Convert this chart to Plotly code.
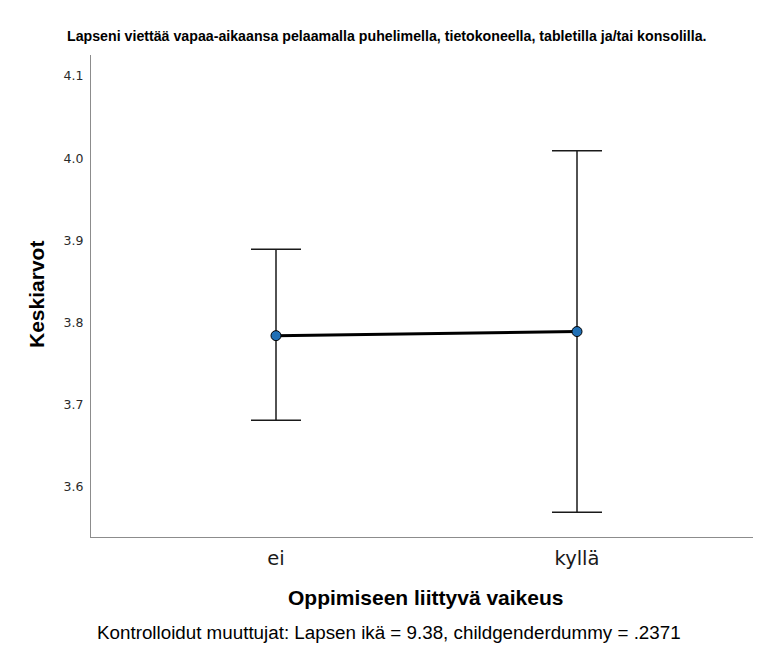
import plotly.graph_objects as go

categories = ["ei", "kyllä"]
means = [3.784, 3.789]
upper = [3.889, 4.009]
lower = [3.681, 3.569]
yticks = [3.6, 3.7, 3.8, 3.9, 4.0, 4.1]

title_text = "Lapseni viettää vapaa-aikaansa pelaamalla puhelimella, tietokoneella, tabletilla ja/tai konsolilla."
xtitle = "Oppimiseen liittyvä vaikeus"
ytitle = "Keskiarvot"
footer = "Kontrolloidut muuttujat: Lapsen ikä = 9.38, childgenderdummy = .2371"

xpos = list(range(len(categories)))
err_plus = [u - m for u, m in zip(upper, means)]
err_minus = [m - l for m, l in zip(means, lower)]

# the page body has an 8px margin; positions are offset by it
W, H = 745, 637
L, T, B, R = 83, 47, 108, 0
PW = W - L - R
PH = H - T - B

fig = go.Figure()
fig.add_trace(go.Scatter(
    x=xpos, y=means, mode="lines+markers",
    line=dict(color="black", width=3),
    marker=dict(color="#1f6fb5", size=10, line=dict(color="black", width=1)),
    error_y=dict(type="data", symmetric=False, array=err_plus, arrayminus=err_minus,
                 color="#1a1a1a", thickness=1.5, width=25),
    showlegend=False, hoverinfo="skip",
))

fig.update_layout(
    width=W, height=H,
    margin=dict(l=L, r=R, t=T, b=B, autoexpand=False),
    paper_bgcolor="white", plot_bgcolor="white",
    font=dict(family="DejaVu Sans", color="black"),
    xaxis=dict(range=[-0.6146, 1.5847], tickvals=xpos, ticktext=categories,
               showgrid=False, zeroline=False, showline=True, linecolor="#8c8c8c",
               linewidth=1, ticks="outside", ticklen=4, tickcolor="rgba(0,0,0,0)",
               tickfont=dict(size=19.5, color="#1a1a1a", family="DejaVu Sans")),
    yaxis=dict(range=[3.539, 4.1255], tickvals=yticks, ticktext=[f"{v:.1f}" for v in yticks],
               showgrid=False, zeroline=False, showline=True, linecolor="#8c8c8c",
               linewidth=1, ticks="outside", ticklen=4, tickcolor="rgba(0,0,0,0)",
               tickfont=dict(size=12.5, color="#2a2a2a", family="DejaVu Sans")),
    annotations=[
        dict(text=f"<b>{title_text}</b>", xref="paper", yref="paper", x=(378 - L) / PW, y=1,
             yshift=19, xanchor="center", yanchor="middle", showarrow=False,
             font=dict(size=14.2, family="Liberation Sans", color="black")),
        dict(text=f"<b>{xtitle}</b>", xref="paper", yref="paper", x=(418 - L) / PW, y=0,
             yshift=-60, xanchor="center", yanchor="middle", showarrow=False,
             font=dict(size=21, family="Liberation Sans", color="black")),
        dict(text=footer, xref="paper", yref="paper", x=(381 - L) / PW, y=0,
             yshift=-95, xanchor="center", yanchor="middle", showarrow=False,
             font=dict(size=18.8, family="Liberation Sans", color="black")),
        dict(text=f"<b>{ytitle}</b>", xref="paper", yref="paper", x=0, y=(537 - 295) / PH,
             xshift=-55, xanchor="center", yanchor="middle", textangle=-90, showarrow=False,
             font=dict(size=21, family="Liberation Sans", color="black")),
    ],
)

fig.write_html("out.html")
